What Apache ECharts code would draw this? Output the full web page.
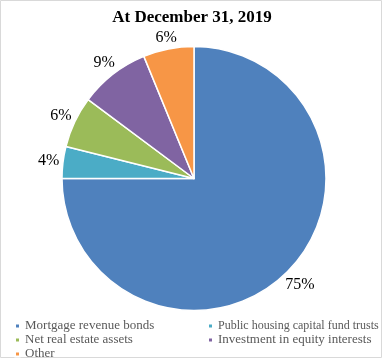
<!DOCTYPE html>
<html><head><meta charset="utf-8">
<script src="https://cdn.jsdelivr.net/npm/echarts@6/dist/echarts.min.js"></script>
<style>html,body{margin:0;padding:0;background:#fff}#c{width:384px;height:360px}</style>
</head><body><div id="c"></div>
<script>
const categories = ["Mortgage revenue bonds","Public housing capital fund trusts","Net real estate assets","Investment in equity interests","Other"];
const values = [75.0, 3.9, 6.3, 8.6, 6.2];
const colors = ["#4F81BD","#4BACC6","#9BBB59","#8064A2","#F79646"];
const titleText = "At December 31, 2019";

const CX = 194, CY = 178.5, R = 132;
const total = values.reduce((a,b)=>a+b,0);
const chart = echarts.init(document.getElementById('c'), null, {renderer:'canvas'});
const serif = "'Liberation Serif','Times New Roman',serif";
const legendBase = {
  orient:'vertical', itemWidth:5, itemHeight:5, itemGap:0, icon:'rect', height:80,
  textStyle:{fontFamily:serif, fontSize:13, lineHeight:14, color:'#595959'},
  selectedMode:false
};
chart.setOption({
  animation:false,
  title:{text:titleText, left:'center', top:4, textStyle:{fontFamily:serif, fontSize:17, fontWeight:'bold', color:'#000'}},
  graphic:[{type:'rect', shape:{x:0.5,y:0.5,width:381,height:357}, style:{fill:'none', stroke:'#d9d9d9', lineWidth:1}}],
  legend:[
    Object.assign({}, legendBase, {left:9, top:314, data:[categories[0],categories[2],categories[4]]}),
    Object.assign({}, legendBase, {left:202, top:314, data:[
      {name:categories[1], textStyle:{fontSize:12}}, categories[3]]})
  ],
  series:[{
    type:'pie', center:[CX,CY], radius:[0,R], startAngle:90, clockwise:true,
    itemStyle:{borderColor:'#fff', borderWidth:1.5},
    label:{show:true, position:'outside', overflow:'none', bleedMargin:0, edgeDistance:0,
      formatter:(p)=>Math.round(p.value)+'%', fontFamily:serif, fontSize:16, color:'#000'},
    labelLine:{show:false, length:0, length2:0},
    labelLayout:function(p){
      let cum = 0;
      for (let i=0;i<p.dataIndex;i++) cum += values[i];
      const mid = (cum + values[p.dataIndex]/2)/total*2*Math.PI;
      const s = Math.sin(mid), c = -Math.cos(mid);
      const hw = p.labelRect.width/2, hh = p.labelRect.height/2;
      const d = R + 3 + Math.abs(s)*hw + Math.abs(c)*hh*0.8;
      return {x: CX + s*d, y: CY + c*d, align:'center', verticalAlign:'middle'};
    },
    emphasis:{disabled:true},
    data: categories.map((n,i)=>({name:n, value:values[i], itemStyle:{color:colors[i]}}))
  }]
});
</script></body></html>
